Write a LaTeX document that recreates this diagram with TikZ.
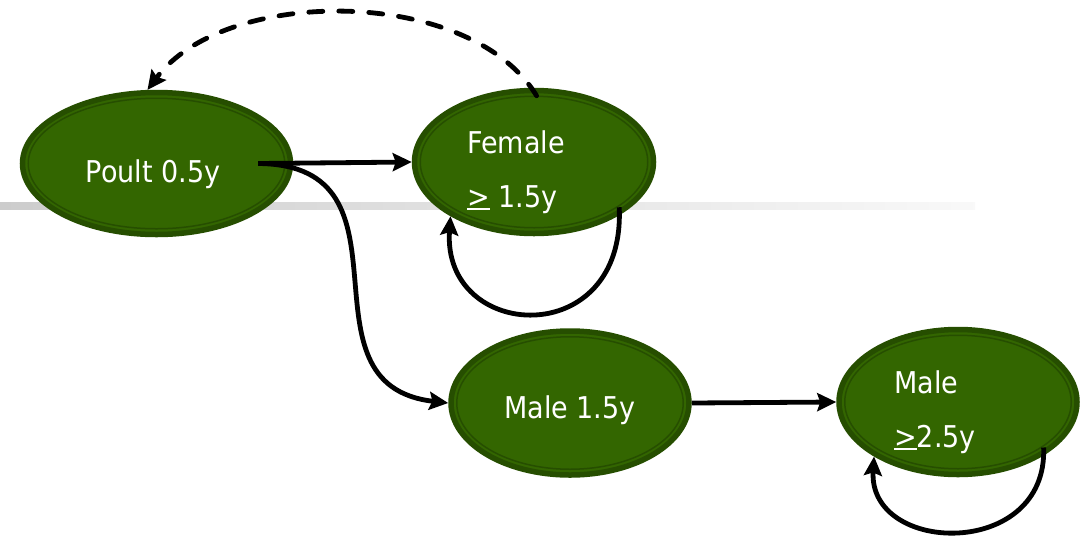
\documentclass[tikz,border=0pt]{standalone}
\usepackage{fontspec}
\setmainfont{DejaVu Sans}[FakeStretch=0.9]
\usetikzlibrary{shapes.geometric,arrows.meta,calc}
\definecolor{stagegreen}{HTML}{336600}
\definecolor{ringgreen}{HTML}{264E00}
\newcommand{\ulgt}{\setbox0\hbox{>}\rlap{\rule[-3pt]{\wd0}{1.8pt}}>}
\tikzset{
  stage/.style={ellipse,fill=stagegreen,draw=ringgreen,line width=5.5pt,inner sep=0pt},
  stagetext/.style={text=white,font={\fontsize{30}{54}\selectfont},inner sep=0pt,align=left},
  flow/.style={line width=4.8pt,-{Stealth[length=19pt,width=18pt,inset=3pt]}},
  back/.style={flow,dash pattern=on 14pt off 16pt,line cap=round}
}
\begin{document}
\begin{tikzpicture}[x=1pt,y=-1pt]
   \useasboundingbox (0,0) rectangle (1081,539);
   % Rule behind
   \shade[left color=gray!40,right color=gray!5] (0,202) rectangle (975,209);
   % Stages
   \node[stage,minimum width=268pt,minimum height=142pt] (poult) at (156.5,163.5) {};
   \node[stage,minimum width=239pt,minimum height=143pt] (female) at (534,162) {};
   \node[stage,minimum width=238pt,minimum height=144pt] (male) at (570,403) {};
   \node[stage,minimum width=238pt,minimum height=145pt] (adult) at (958,402) {};
   \foreach \s in {poult,female,male,adult}
     \draw[ringgreen,line width=1.5pt] let \p1=($(\s.east)-(\s.center)$), \p2=($(\s.north)-(\s.center)$)
       in (\s.center) ellipse [x radius=\x1-8.5pt, y radius=\y2-8.5pt];
   % Labels
   \node[stagetext,anchor=base] (poultlabel) at (153,182) {Poult 0.5y};
   \node[stagetext,anchor=base west] (femalelabel) at (467,207) {Female\\\ulgt{} 1.5y};
   \node[stagetext,anchor=base] (malelabel) at (570,418) {Male 1.5y};
   \node[stagetext,anchor=base west] (adultlabel) at (894,447) {Male\\\ulgt2.5y};
   % Transitions
   \draw[flow] ([xshift=-35pt]poult.east) -- (female.west);
   \draw[flow] ([xshift=-35pt]poult.east) .. controls (425,165) and (290,385) .. (male.west);
   \draw[flow] (male.east) -- (adult.west);
   % Staying
   \draw[flow] ([yshift=8pt]female.-32) .. controls (626,352) and (442,342) .. (female.-147);
   \draw[flow] ([yshift=8pt]adult.-32) .. controls (1048,560) and (868,555) .. (adult.-147);
   % Back to poults
   \draw[back] ([yshift=-8pt]female.88) .. controls (470,-14) and (225,-14) .. (poult.97);
\end{tikzpicture}
\end{document}
